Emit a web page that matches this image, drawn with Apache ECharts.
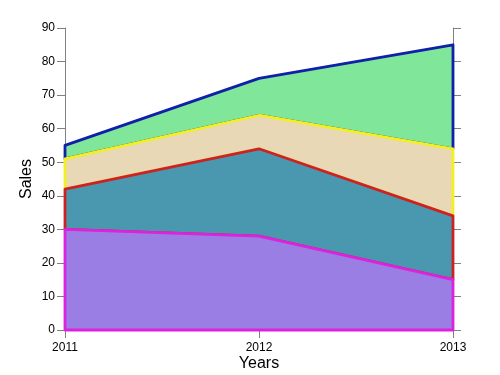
<!DOCTYPE html>
<html><head><meta charset="utf-8">
<script src="https://cdn.jsdelivr.net/npm/echarts@6/dist/echarts.min.js"></script>
<style>html,body{margin:0;padding:0;background:#fff}#c{width:500px;height:375px}</style>
</head><body><div id="c"></div>
<script>
var years = [2011, 2012, 2013];
var magentaLine = [30, 28, 15];
var redLine = [42, 54, 34];
var yellowLine = [51, 64, 54];
var blueLine = [55, 75, 85];
var yTicks = [0, 10, 20, 30, 40, 50, 60, 70, 80, 90];

var zero = years.map(function(){return 0;});
var bands = [
  {upper: blueLine, lower: yellowLine, fill: '#80e69a', stroke: '#1020a8'},
  {upper: yellowLine, lower: redLine, fill: '#e8d8b6', stroke: '#f2f020'},
  {upper: redLine, lower: magentaLine, fill: '#4a98b0', stroke: '#cc2222'},
  {upper: magentaLine, lower: zero, fill: '#9a7ee4', stroke: '#dd22dd'}
];

function bandSeries(b) {
  var data = years.map(function(y, i){ return [y, b.upper[i], b.lower[i]]; });
  return {
    type: 'custom',
    coordinateSystem: 'cartesian2d',
    xAxisIndex: 0, yAxisIndex: 0,
    data: data,
    renderItem: function(params, api) {
      if (params.dataIndex !== 0) return null;
      var pts = [];
      for (var i = 0; i < data.length; i++) pts.push(api.coord([data[i][0], data[i][1]]));
      for (var j = data.length - 1; j >= 0; j--) pts.push(api.coord([data[j][0], data[j][2]]));
      return {
        type: 'polygon',
        shape: {points: pts},
        style: {fill: b.fill, stroke: b.stroke, lineWidth: 2.8, lineJoin: 'round'}
      };
    },
    silent: true,
    animation: false
  };
}

var axisColor = '#808080';
var chart = echarts.init(document.getElementById('c'), null, {renderer: 'canvas'});
chart.setOption({
  animation: false,
  grid: {left: 65, right: 47, top: 28, bottom: 45, containLabel: false, outerBoundsMode: 'none'},
  xAxis: [{
    type: 'value', min: 2011, max: 2013, interval: 1, position: 'bottom',
    name: 'Years', nameLocation: 'middle', nameGap: 26, nameMoveOverlap: false,
    nameTextStyle: {fontFamily: 'Liberation Sans', fontSize: 16, color: '#000'},
    axisLine: {show: true, lineStyle: {color: axisColor, width: 1}},
    axisTick: {show: true, inside: false, length: 8, lineStyle: {color: axisColor}},
    axisLabel: {formatter: function(v){return String(v);}, fontFamily: 'Liberation Sans', fontSize: 12, color: '#000', margin: 12},
    splitLine: {show: false}
  }, {
    type: 'value', min: 2011, max: 2013, interval: 1, position: 'top',
    axisLine: {show: true, lineStyle: {color: axisColor, width: 1}},
    axisTick: {show: true, inside: false, length: 8, lineStyle: {color: axisColor}},
    axisLabel: {show: false},
    splitLine: {show: false}
  }],
  yAxis: [{
    type: 'value', min: 0, max: 90, interval: 10, position: 'left',
    name: 'Sales', nameLocation: 'middle', nameGap: 30, nameRotate: 90, nameMoveOverlap: false,
    nameTextStyle: {fontFamily: 'Liberation Sans', fontSize: 16, color: '#000'},
    axisLine: {show: true, lineStyle: {color: axisColor, width: 1}},
    axisTick: {show: true, inside: false, length: 8, lineStyle: {color: axisColor}},
    axisLabel: {formatter: function(v){return yTicks.indexOf(v) >= 0 ? String(v) : '';}, fontFamily: 'Liberation Sans', fontSize: 12, color: '#000', margin: 10},
    splitLine: {show: false}
  }, {
    type: 'value', min: 0, max: 90, interval: 10, position: 'right',
    axisLine: {show: true, lineStyle: {color: axisColor, width: 1}},
    axisTick: {show: true, inside: false, length: 8, lineStyle: {color: axisColor}},
    axisLabel: {show: false},
    splitLine: {show: false}
  }],
  series: bands.map(bandSeries)
});
</script></body></html>
